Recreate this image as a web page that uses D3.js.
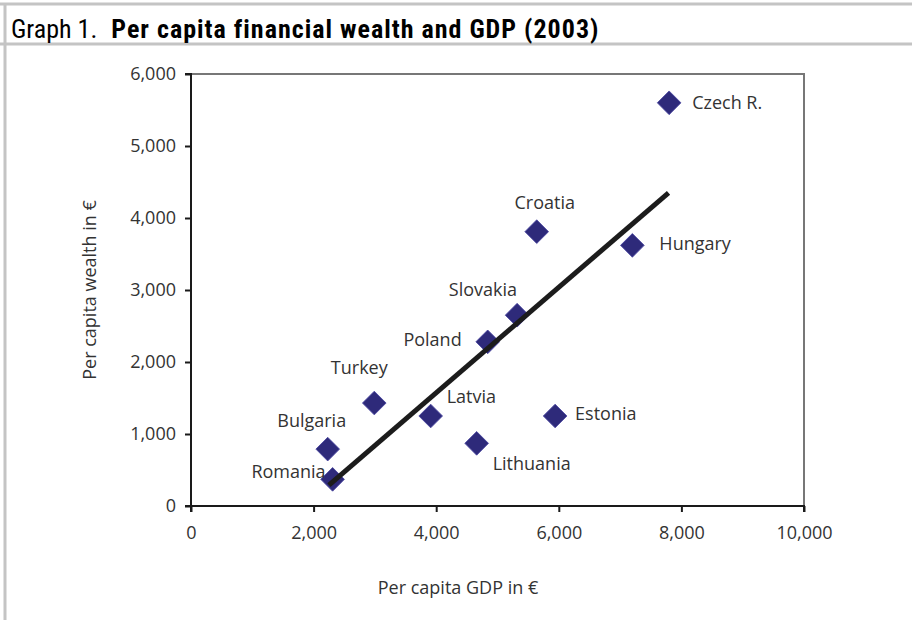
<!DOCTYPE html>
<html>
<head>
<meta charset="utf-8">
<script src="https://cdn.jsdelivr.net/npm/d3@7"></script>
<style>
  html, body { margin: 0; padding: 0; background: #fff; }
  svg { display: block; }
</style>
</head>
<body>
<svg id="chart" width="912" height="620"></svg>
<script>
// ---- data ----
const countries = ["Czech R.", "Croatia", "Hungary", "Slovakia", "Poland", "Latvia", "Estonia", "Lithuania", "Turkey", "Bulgaria", "Romania"];
const gdp       = [7800, 5640, 7200, 5320, 4840, 3910, 5940, 4660, 2990, 2230, 2310];
const wealth    = [5600, 3810, 3620, 2650, 2280, 1250, 1250, 870, 1430, 790, 370];
const trendGdp    = [2250, 7790];
const trendWealth = [290, 4350];
const xTicks = [0, 2000, 4000, 6000, 8000, 10000];
const yTicks = [0, 1000, 2000, 3000, 4000, 5000, 6000];
// label placement: anchor and offsets from the marker (layout, not data)
const labelPos = {
  "Czech R.": {a: "start", dx: 23, dy: 0},
  "Croatia": {a: "middle", dx: 8, dy: -29},
  "Hungary": {a: "start", dx: 27, dy: -2},
  "Slovakia": {a: "end", dx: 0, dy: -26},
  "Poland": {a: "end", dx: -26, dy: -2},
  "Latvia": {a: "start", dx: 16, dy: -19},
  "Estonia": {a: "start", dx: 20, dy: -2},
  "Lithuania": {a: "start", dx: 16, dy: 20},
  "Turkey": {a: "middle", dx: -15, dy: -35},
  "Bulgaria": {a: "middle", dx: -16, dy: -28},
  "Romania": {a: "end", dx: -7, dy: -8}
};

const svg = d3.select("#chart");
const font = "'Open Sans', 'DejaVu Sans', sans-serif";
const narrow = "'Liberation Sans Narrow', 'Arial Narrow', 'Roboto Condensed', 'Liberation Sans', sans-serif";

// frame
svg.append("line").attr("x1", 0).attr("x2", 912).attr("y1", 4).attr("y2", 4).attr("stroke", "#c4c4c4").attr("stroke-width", 3);
svg.append("line").attr("x1", 0).attr("x2", 912).attr("y1", 44).attr("y2", 44).attr("stroke", "#c4c4c4").attr("stroke-width", 3);
svg.append("line").attr("x1", 5).attr("x2", 5).attr("y1", 3).attr("y2", 620).attr("stroke", "#c4c4c4").attr("stroke-width", 3);

// header
const title = svg.append("text").attr("x", 11).attr("y", 38).attr("font-family", narrow).attr("font-size", 26).attr("fill", "#000");
title.append("tspan").text("Graph 1.");
title.append("tspan").attr("dx", 14).attr("font-weight", "bold").attr("letter-spacing", 1).text("Per capita financial wealth and GDP (2003)");

const pLeft = 191, pRight = 804, pTop = 74, pBottom = 506;
const x = d3.scaleLinear().domain([0, 10000]).range([pLeft, pRight]);
const y = d3.scaleLinear().domain([0, 6000]).range([pBottom, pTop]);

// plot border (top/right gray)
svg.append("path").attr("d", `M${pLeft},${pTop}H${pRight}V${pBottom}`).attr("fill", "none").attr("stroke", "#777").attr("stroke-width", 2);

// axes
const fmt = d3.format(",");
const xAxis = svg.append("g").attr("transform", `translate(0,${pBottom})`)
  .call(d3.axisBottom(x).tickValues(xTicks).tickFormat(fmt).tickSize(6).tickPadding(14));
const yAxis = svg.append("g").attr("transform", `translate(${pLeft},0)`)
  .call(d3.axisLeft(y).tickValues(yTicks).tickFormat(fmt).tickSize(6).tickPadding(9));
[xAxis, yAxis].forEach(g => {
  g.select(".domain").attr("stroke", "#1a1a1a").attr("stroke-width", 2);
  g.selectAll(".tick line").attr("stroke", "#1a1a1a").attr("stroke-width", 2);
  g.selectAll("text").attr("font-family", font).attr("font-size", 18).attr("fill", "#333");
});
yAxis.select(".domain").attr("d", `M-6,${pBottom}H0V${pTop}H-6`);
xAxis.select(".domain").attr("d", `M${pLeft},6V0H${pRight}V6`);

// axis titles
svg.append("text").attr("x", 458).attr("y", 594).attr("text-anchor", "middle")
  .attr("font-family", font).attr("font-size", 18).attr("fill", "#333").text("Per capita GDP in €");
svg.append("text").attr("transform", "translate(96,290) rotate(-90)").attr("text-anchor", "middle")
  .attr("font-family", font).attr("font-size", 18).attr("fill", "#333").text("Per capita wealth in €");

// points
const pts = countries.map((c, i) => ({c, gx: gdp[i], w: wealth[i]}));
const diamond = d3.symbol().type(d3.symbolSquare).size(280);
svg.append("g").selectAll("path").data(pts).join("path")
  .attr("d", diamond)
  .attr("transform", d => `translate(${x(d.gx)},${y(d.w)}) rotate(45)`)
  .attr("fill", "#2e2a7a").attr("stroke", "#4a47a0").attr("stroke-width", 0.8);

// trend line
svg.append("line")
  .attr("x1", x(trendGdp[0])).attr("y1", y(trendWealth[0]))
  .attr("x2", x(trendGdp[1])).attr("y2", y(trendWealth[1]))
  .attr("stroke", "#1c1c1c").attr("stroke-width", 5);

// labels
svg.append("g").selectAll("text").data(pts).join("text")
  .attr("x", d => x(d.gx) + labelPos[d.c].dx)
  .attr("y", d => y(d.w) + labelPos[d.c].dy)
  .attr("dy", "0.35em")
  .attr("text-anchor", d => labelPos[d.c].a)
  .attr("font-family", font).attr("font-size", 18).attr("fill", "#333")
  .text(d => d.c);
</script>
</body>
</html>
